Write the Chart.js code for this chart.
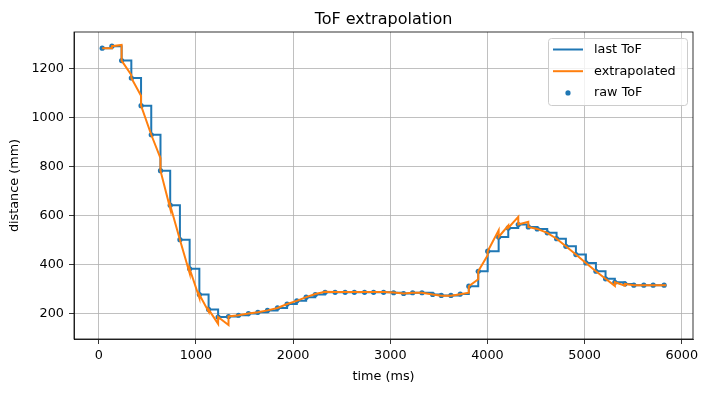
<!DOCTYPE html>
<html>
<head>
<meta charset="utf-8">
<script src="https://cdn.jsdelivr.net/npm/chart.js@4.4.0/dist/chart.umd.min.js"></script>
<style>
html, body { margin: 0; padding: 0; background: #fff; }
canvas { display: block; }
</style>
</head>
<body>
<canvas id="chartTof" width="708" height="393"></canvas>
<script>
// raw ToF samples (ms, mm)
var rawTime = [35, 135, 235, 335, 435, 540, 635, 735, 835, 935, 1035, 1130, 1228, 1335, 1438, 1540,
    1637, 1736, 1839, 1938, 2038, 2134, 2228, 2329, 2432, 2535, 2630, 2735, 2828, 2931, 3034, 3137,
    3230, 3326, 3436, 3525, 3624, 3720, 3808, 3905, 4002, 4115, 4214, 4317, 4420, 4512, 4615, 4711,
    4807, 4910, 5013, 5116, 5215, 5311, 5414, 5506, 5609, 5705, 5818];
var rawDist = [1285, 1293, 1234, 1163, 1050, 931, 784, 643, 502, 383, 278, 217, 186, 188, 193, 200,
    205, 213, 223, 239, 252, 267, 278, 287, 287, 287, 287, 287, 287, 287, 285, 282,
    285, 285, 278, 274, 274, 280, 312, 373, 455, 513, 550, 564, 554, 546, 530, 506,
    475, 441, 407, 373, 342, 328, 321, 316, 316, 316, 316];

// extrapolated line vertices (jumps appear as two points at the same time)
var extTime = [35, 135, 135, 235, 235, 335, 335, 435, 435, 540, 635, 635, 735, 735, 835, 935, 935,
    1035, 1035, 1130, 1130, 1228, 1228, 1335, 1335, 1438, 1540, 1637, 1736, 1839, 1938, 2038, 2134,
    2228, 2329, 2432, 2535, 2630, 2735, 2828, 2931, 3034, 3137, 3230, 3326, 3436, 3525, 3624, 3720,
    3808, 3808, 3905, 3905, 4002, 4002, 4115, 4115, 4214, 4214, 4317, 4317, 4420, 4420, 4512, 4615,
    4711, 4807, 4910, 5013, 5116, 5215, 5311, 5311, 5414, 5414, 5506, 5609, 5705, 5818, 5840];
var extDist = [1285, 1285, 1293, 1298, 1234, 1175, 1163, 1090, 1050, 931, 835, 784, 629, 643, 502, 365, 383,
    264, 278, 208, 217, 158, 186, 153, 188, 193, 200, 205, 213, 223, 239, 252, 267,
    280, 289, 288, 288, 288, 288, 288, 288, 286, 282, 285, 285, 278, 273, 273, 279,
    285, 312, 340, 373, 438, 455, 540, 513, 560, 550, 595, 564, 575, 554, 546, 530,
    506, 475, 441, 407, 373, 342, 313, 328, 314, 321, 316, 316, 316, 316, 316];

var xTicks = [0, 1000, 2000, 3000, 4000, 5000, 6000];
var yTicks = [200, 400, 600, 800, 1000, 1200];

var legendItems = [
    { label: 'last ToF', color: '#1f77b4', kind: 'line' },
    { label: 'extrapolated', color: '#ff7f0e', kind: 'line' },
    { label: 'raw ToF', color: '#1f77b4', kind: 'dot' }
];

var FONT = '"DejaVu Sans", sans-serif';
var _chartTof = null;

function toPoints(xs, ys) {
    var pts = [];
    xs.forEach(function (x, i) {
        pts.push({ x: x, y: ys[i] });
    });
    return pts;
}

// khung, tieu de va chu thich kieu matplotlib
var mplDecor = {
    id: 'mplDecor',
    afterDraw: function (chart) {
        var ctx = chart.ctx;
        var a = chart.chartArea;
        ctx.save();
        ctx.strokeStyle = '#000';
        ctx.lineWidth = 0.8;
        ctx.strokeRect(a.left, a.top, a.right - a.left, a.bottom - a.top);

        ctx.fillStyle = '#000';
        ctx.font = '16px ' + FONT;
        ctx.textAlign = 'center';
        ctx.textBaseline = 'alphabetic';
        ctx.fillText('ToF extrapolation', (a.left + a.right) / 2, 24);

        // legend box
        var bx = 548.5, by = 38.5, bw = 139, bh = 67, r = 3;
        ctx.beginPath();
        ctx.moveTo(bx + r, by);
        ctx.lineTo(bx + bw - r, by);
        ctx.arcTo(bx + bw, by, bx + bw, by + r, r);
        ctx.lineTo(bx + bw, by + bh - r);
        ctx.arcTo(bx + bw, by + bh, bx + bw - r, by + bh, r);
        ctx.lineTo(bx + r, by + bh);
        ctx.arcTo(bx, by + bh, bx, by + bh - r, r);
        ctx.lineTo(bx, by + r);
        ctx.arcTo(bx, by, bx + r, by, r);
        ctx.closePath();
        ctx.fillStyle = 'rgba(255,255,255,0.8)';
        ctx.fill();
        ctx.strokeStyle = '#cccccc';
        ctx.lineWidth = 1;
        ctx.stroke();

        ctx.font = '12.8px ' + FONT;
        ctx.textAlign = 'left';
        ctx.textBaseline = 'middle';
        legendItems.forEach(function (item, i) {
            var y = 49.5 + i * 21.7;
            if (item.kind === 'line') {
                ctx.strokeStyle = item.color;
                ctx.lineWidth = 2;
                ctx.beginPath();
                ctx.moveTo(553, y);
                ctx.lineTo(583, y);
                ctx.stroke();
            } else {
                ctx.fillStyle = item.color;
                ctx.beginPath();
                ctx.arc(568, y, 2.6, 0, Math.PI * 2);
                ctx.fill();
            }
            ctx.fillStyle = '#000';
            ctx.fillText(item.label, 594, y);
        });
        ctx.restore();
    }
};

function renderDoThiTof() {
    var ctx = document.getElementById('chartTof').getContext('2d');
    var tickFont = { family: FONT, size: 12.8 };

    _chartTof = new Chart(ctx, {
        type: 'line',
        data: {
            datasets: [{
                label: 'last ToF',
                data: toPoints(rawTime, rawDist),
                stepped: 'before', // giu gia tri cu cho den mau tiep theo
                borderColor: '#1f77b4',
                borderWidth: 2,
                pointRadius: 0,
                fill: false,
                order: 2
            }, {
                label: 'extrapolated',
                data: toPoints(extTime, extDist),
                borderColor: '#ff7f0e',
                borderWidth: 2,
                pointRadius: 0,
                tension: 0,
                fill: false,
                order: 1
            }, {
                label: 'raw ToF',
                data: toPoints(rawTime, rawDist),
                showLine: false,
                pointRadius: 2.6,
                pointBorderWidth: 0,
                pointBackgroundColor: '#1f77b4',
                borderColor: '#1f77b4',
                order: 3
            }]
        },
        options: {
            responsive: false,
            animation: false,
            devicePixelRatio: 1,
            layout: { padding: { top: 32, right: 15, left: 0, bottom: 0 } },
            plugins: {
                legend: { display: false },
                title: { display: false },
                tooltip: { enabled: false }
            },
            scales: {
                x: {
                    type: 'linear',
                    min: -255,
                    max: 6115,
                    afterBuildTicks: function (s) {
                        s.ticks = xTicks.map(function (v) { return { value: v }; });
                    },
                    afterFit: function (s) { s.height = 54; },
                    grid: { color: '#b0b0b0', lineWidth: 0.8, tickColor: '#000', tickLength: 5, tickWidth: 0.8 },
                    border: { color: '#000', width: 0.8 },
                    ticks: {
                        color: '#000', font: tickFont, padding: 4, autoSkip: false, maxRotation: 0,
                        callback: function (value) { return String(value); }
                    },
                    title: { display: true, text: 'time (ms)', color: '#000', font: tickFont, padding: { bottom: 9 } }
                },
                y: {
                    type: 'linear',
                    min: 96,
                    max: 1351,
                    afterBuildTicks: function (s) {
                        s.ticks = yTicks.map(function (v) { return { value: v }; });
                    },
                    afterFit: function (s) { s.width = 74; },
                    grid: { color: '#b0b0b0', lineWidth: 0.8, tickColor: '#000', tickLength: 5, tickWidth: 0.8 },
                    border: { color: '#000', width: 0.8 },
                    ticks: {
                        color: '#000', font: tickFont, padding: 5,
                        callback: function (value) { return String(value); }
                    },
                    title: { display: true, text: 'distance (mm)', color: '#000', font: tickFont, padding: { top: 7 } }
                }
            }
        },
        plugins: [mplDecor]
    });
}

renderDoThiTof();
</script>
</body>
</html>
